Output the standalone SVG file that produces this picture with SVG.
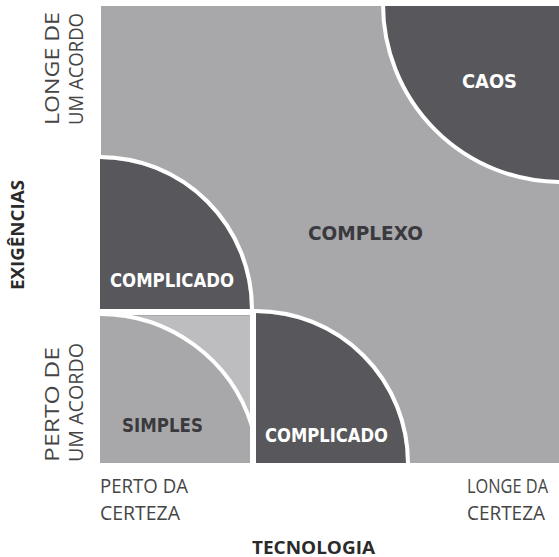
<svg xmlns="http://www.w3.org/2000/svg" width="559" height="557" viewBox="0 0 559 557">
<style>
.light{fill:#a8a8aa}
.dark{fill:#58585c}
.pale{fill:#bdbdbf}
.arc{fill:none;stroke:#ffffff;stroke-width:4}
.lbl{font-family:"DejaVu Sans Condensed","DejaVu Sans",sans-serif;font-weight:bold;font-size:20px}
.wt{fill:#ffffff}
.dk{fill:#3a3a3e}
.ax{font-family:"Open Sans","Liberation Sans",sans-serif;font-size:20px;fill:#454545}
.axb{font-family:"Open Sans","Liberation Sans",sans-serif;font-weight:bold;font-size:18px;fill:#2a2a2a}
</style>
<rect width="559" height="557" fill="#ffffff"/>
<g id="complexo">
<rect class="light" x="101" y="6" width="458" height="457"/>
<rect x="99" y="309" width="157" height="6" fill="#ffffff"/>
<rect x="250" y="309" width="6" height="156" fill="#ffffff"/>
<text class="lbl dk" x="308" y="240" textLength="115" lengthAdjust="spacingAndGlyphs">COMPLEXO</text>
</g>
<g id="caos">
<path class="dark" d="M383,6 A176,176 0 0 0 559,182 L559,6 Z"/>
<path class="arc" d="M383,4 A178,178 0 0 0 561,182"/>
<text class="lbl wt" x="462" y="88" textLength="55" lengthAdjust="spacingAndGlyphs">CAOS</text>
</g>
<g id="complicado-left">
<path class="dark" d="M100,159 A150,150 0 0 1 250,309 L100,309 Z"/>
<path class="arc" d="M100,157 A152,152 0 0 1 252,309"/>
<text class="lbl wt" x="110" y="287" textLength="124" lengthAdjust="spacingAndGlyphs">COMPLICADO</text>
</g>
<g id="simples">
<rect class="pale" x="100" y="316" width="150" height="147"/>
<path class="light" d="M100,316 A157,157 0 0 1 250,427 L250,463 L100,463 Z"/>
<path class="arc" d="M100,314 A159,159 0 0 1 252,426"/>
<text class="lbl dk" x="122" y="432" textLength="81" lengthAdjust="spacingAndGlyphs">SIMPLES</text>
</g>
<g id="complicado-bottom">
<path class="dark" d="M256,313 A150,150 0 0 1 406,463 L256,463 Z"/>
<path class="arc" d="M256,311 A152,152 0 0 1 408,463"/>
<text class="lbl wt" x="265" y="442" textLength="123" lengthAdjust="spacingAndGlyphs">COMPLICADO</text>
</g>
<g id="axis-y">
<text class="axb" transform="translate(24,290) rotate(-90)" textLength="110" lengthAdjust="spacingAndGlyphs">EXIGÊNCIAS</text>
<text class="ax" transform="translate(59,125) rotate(-90)" textLength="113" lengthAdjust="spacingAndGlyphs">LONGE DE</text>
<text class="ax" transform="translate(83,125) rotate(-90)" textLength="112" lengthAdjust="spacingAndGlyphs">UM ACORDO</text>
<text class="ax" transform="translate(59,462) rotate(-90)" textLength="115" lengthAdjust="spacingAndGlyphs">PERTO DE</text>
<text class="ax" transform="translate(83,462) rotate(-90)" textLength="119" lengthAdjust="spacingAndGlyphs">UM ACORDO</text>
</g>
<g id="axis-x">
<text class="ax" x="100" y="493" textLength="88" lengthAdjust="spacingAndGlyphs">PERTO DA</text>
<text class="ax" x="100" y="520" textLength="80" lengthAdjust="spacingAndGlyphs">CERTEZA</text>
<text class="ax" x="467" y="493" textLength="81" lengthAdjust="spacingAndGlyphs">LONGE DA</text>
<text class="ax" x="467" y="520" textLength="78" lengthAdjust="spacingAndGlyphs">CERTEZA</text>
<text class="axb" x="252" y="554" textLength="123" lengthAdjust="spacingAndGlyphs">TECNOLOGIA</text>
</g>
</svg>
